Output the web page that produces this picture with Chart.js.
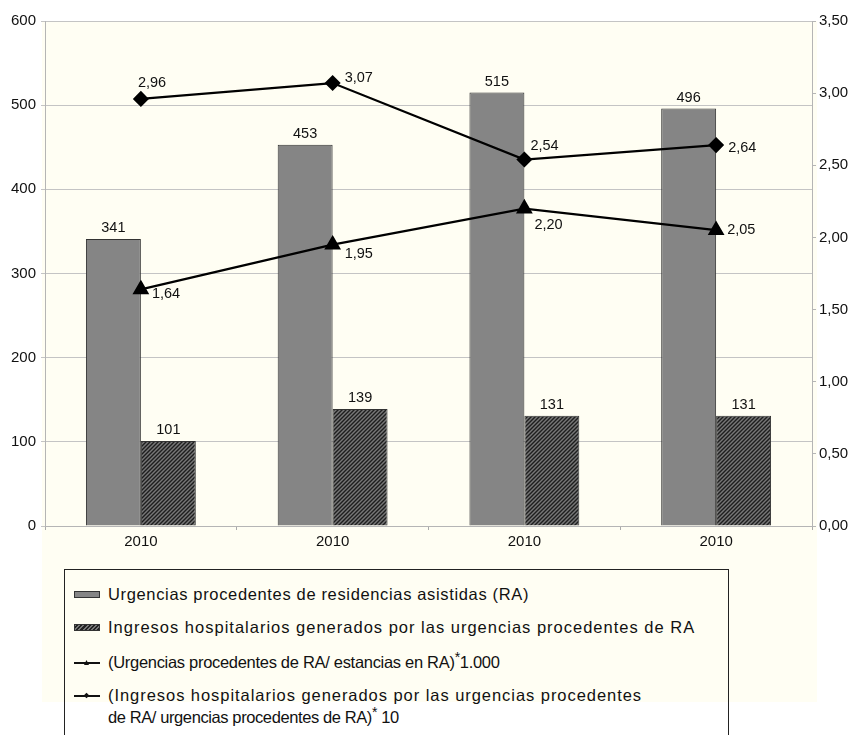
<!DOCTYPE html>
<html>
<head>
<meta charset="utf-8">
<script src="https://cdn.jsdelivr.net/npm/chart.js@4.4.1/dist/chart.umd.min.js"></script>
<style>
  body { margin: 0; background: #fff; font-family: "Liberation Sans", Arial, sans-serif; }
  #wrap { position: relative; width: 855px; height: 735px; overflow: hidden; }
  #cream { position: absolute; left: 42px; top: 21px; width: 775px; height: 681px; background: #fffef3; }
  #chart { position: absolute; left: 0; top: 0; }
  #legend {
    position: absolute; left: 64px; top: 569px; width: 665px; height: 200px;
    border: 1.5px solid #222; border-bottom: none; box-sizing: border-box;
    color: #111; font-size: 16.5px;
  }
  .row { position: absolute; left: 43px; white-space: nowrap; line-height: 22px; }
  .sw { position: absolute; left: 9px; width: 26px; }
  .bar1 { height: 7px; background: #858585; border: 1px solid #333; box-sizing: border-box; }
  .bar2 { height: 7px; border: 1px solid #333; box-sizing: border-box;
    background: repeating-linear-gradient(-45deg, #222 0 1.5px, #777 1.5px 3px); }
  .ln { height: 2px; background: #111; }
  .mk { position: absolute; left: 10px; top: -2px; width: 5px; height: 5px; background: #111; }
  sup { font-size: 14px; line-height: 0; }
</style>
</head>
<body>
<div id="wrap">
  <div id="cream"></div>
  <canvas id="chart" width="855" height="560"></canvas>
  <div id="legend">
    <div class="sw bar1" style="top:21px"></div>
    <div class="row" style="top:13px;letter-spacing:0.65px">Urgencias procedentes de residencias asistidas (RA)</div>
    <div class="sw bar2" style="top:54px"></div>
    <div class="row" style="top:46px;letter-spacing:1px">Ingresos hospitalarios generados por las urgencias procedentes de RA</div>
    <div class="sw ln" style="top:92px"><div class="mk" style="clip-path:polygon(50% 0,100% 100%,0 100%)"></div></div>
    <div class="row" style="top:81px;letter-spacing:-0.3px">(Urgencias procedentes de RA/ estancias en RA)<sup>*</sup>1.000</div>
    <div class="sw ln" style="top:125px"><div class="mk" style="transform:rotate(45deg) scale(0.8)"></div></div>
    <div class="row" style="top:114px;letter-spacing:0.95px">(Ingresos hospitalarios generados por las urgencias procedentes</div>
    <div class="row" style="top:136px;letter-spacing:-0.4px">de RA/ urgencias procedentes de RA)<sup>*</sup> 10</div>
  </div>
</div>
<script>
// datos
const categorias = ['2010', '2010', '2010', '2010'];
const urgenciasRA = [341, 453, 515, 496];
const ingresosRA = [101, 139, 131, 131];
const urgEstancias = [1.64, 1.95, 2.20, 2.05];   // triangulos
const ingUrgencias = [2.96, 3.07, 2.54, 2.64];   // rombos

// desplazamiento de las etiquetas de las lineas (dx, dy)
const offsetsRombo = [[-3, -16], [12, -5], [6, -14], [12, 3]];
const offsetsTriangulo = [[11, 5], [12, 9], [10, 16], [11, 0]];

const FONT = '"Liberation Sans", Arial, sans-serif';
const coma = v => v.toFixed(2).replace('.', ',');

// trama rayada para la segunda serie de barras
function makeHatch() {
  const c = document.createElement('canvas');
  c.width = 4; c.height = 4;
  const g = c.getContext('2d');
  g.fillStyle = '#777';
  g.fillRect(0, 0, 4, 4);
  g.strokeStyle = '#1e1e1e';
  g.lineWidth = 1.4;
  g.beginPath();
  g.moveTo(0, 4); g.lineTo(4, 0);
  g.moveTo(-1, 1); g.lineTo(1, -1);
  g.moveTo(3, 5); g.lineTo(5, 3);
  g.stroke();
  return g.createPattern(c, 'repeat');
}

const labelsPlugin = {
  id: 'valueLabels',
  afterDatasetsDraw(chart) {
    const ctx = chart.ctx;
    ctx.save();
    ctx.font = '14.5px ' + FONT;
    ctx.fillStyle = '#111';
    ctx.textBaseline = 'middle';
    chart.data.datasets.forEach((ds, di) => {
      const meta = chart.getDatasetMeta(di);
      meta.data.forEach((el, i) => {
        if (ds.type === 'bar') {
          ctx.textAlign = 'center';
          ctx.fillText(String(ds.data[i]), el.x, el.y - 11);
        } else {
          const off = ds.labelOffsets[i];
          ctx.textAlign = 'left';
          ctx.fillText(coma(ds.data[i]), el.x + off[0], el.y + off[1]);
        }
      });
    });
    ctx.restore();
  }
};

const ctx = document.getElementById('chart');
new Chart(ctx, {
  data: {
    labels: categorias,
    datasets: [
      {
        type: 'line',
        label: '(Ingresos hospitalarios generados por las urgencias procedentes de RA/ urgencias procedentes de RA)* 10',
        data: ingUrgencias,
        yAxisID: 'y2',
        borderColor: '#000',
        borderWidth: 2.2,
        pointStyle: 'rectRot',
        pointRadius: 6.5,
        pointBackgroundColor: '#000',
        pointBorderColor: '#000',
        tension: 0,
        order: 1,
        labelOffsets: offsetsRombo
      },
      {
        type: 'line',
        label: '(Urgencias procedentes de RA/ estancias en RA)*1.000',
        data: urgEstancias,
        yAxisID: 'y2',
        borderColor: '#000',
        borderWidth: 2.2,
        pointStyle: 'triangle',
        pointRadius: 7.5,
        pointBackgroundColor: '#000',
        pointBorderColor: '#000',
        tension: 0,
        order: 1,
        labelOffsets: offsetsTriangulo
      },
      {
        type: 'bar',
        label: 'Urgencias procedentes de residencias asistidas (RA)',
        data: urgenciasRA,
        yAxisID: 'y',
        backgroundColor: '#858585',
        borderColor: '#333',
        borderWidth: 1,
        categoryPercentage: 0.573,
        barPercentage: 1,
        order: 2
      },
      {
        type: 'bar',
        label: 'Ingresos hospitalarios generados por las urgencias procedentes de RA',
        data: ingresosRA,
        yAxisID: 'y',
        backgroundColor: makeHatch(),
        borderColor: '#333',
        borderWidth: 1,
        categoryPercentage: 0.573,
        barPercentage: 1,
        order: 2
      }
    ]
  },
  options: {
    responsive: false,
    animation: false,
    layout: { padding: { top: 21, left: 0, right: 0, bottom: 0 } },
    plugins: {
      legend: { display: false },
      tooltip: { enabled: false }
    },
    scales: {
      x: {
        offset: true,
        grid: { display: true, drawOnChartArea: false, offset: true, tickLength: 4, color: '#aaa' },
        border: { color: '#b5b5b5' },
        ticks: { font: { size: 15, family: FONT }, color: '#111', padding: 3 },
        afterFit: s => { s.height = 34; }
      },
      y: {
        position: 'left',
        min: 0, max: 600,
        ticks: { stepSize: 100, font: { size: 15, family: FONT }, color: '#111', padding: 5 },
        grid: { color: '#c4c4c4', tickLength: 4 },
        border: { color: '#b5b5b5' },
        afterFit: s => { s.width = 45; }
      },
      y2: {
        position: 'right',
        min: 0, max: 3.5,
        ticks: { stepSize: 0.5, font: { size: 15, family: FONT }, color: '#111', padding: 3,
          callback: v => coma(v) },
        grid: { drawOnChartArea: false, tickLength: 4, color: '#b5b5b5' },
        border: { color: '#b5b5b5' },
        afterFit: s => { s.width = 43; }
      }
    }
  },
  plugins: [labelsPlugin]
});
</script>
</body>
</html>
